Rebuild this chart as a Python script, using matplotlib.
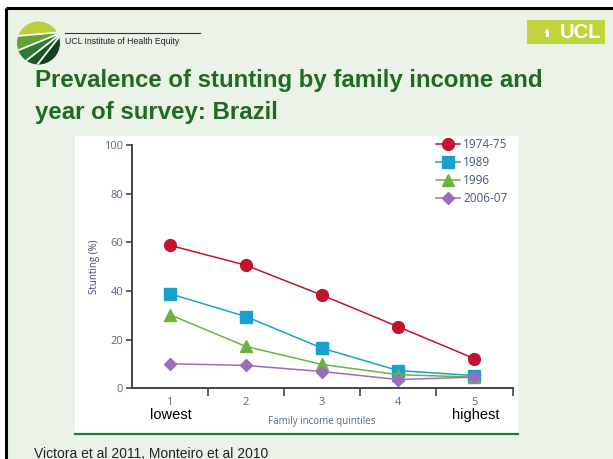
import matplotlib
matplotlib.use("Agg")
import matplotlib.pyplot as plt
from matplotlib.patches import Rectangle, Circle, Polygon
import numpy as np

# stunting (%) by family income quintile, one series per survey
quintiles = [1, 2, 3, 4, 5]
tick_labels = ["1", "2", "3", "4", "5"]
survey_years = ["1974-75", "1989", "1996", "2006-07"]
stunting_1974 = [58.8, 50.6, 38.3, 25.3, 12.2]
stunting_1989 = [38.9, 29.5, 16.5, 7.3, 5.2]
stunting_1996 = [30.3, 17.2, 9.8, 5.6, 4.6]
stunting_2006 = [10.1, 9.4, 6.9, 3.6, 4.6]
y_ticks = [0, 20, 40, 60, 80, 100]

series = [stunting_1974, stunting_1989, stunting_1996, stunting_2006]
colors = ["#c4122f", "#1aa0cf", "#6cb33f", "#9a6cc0"]
markers = ["o", "s", "^", "D"]
msizes = [8.5, 8, 8, 6.5]

W, H = 613, 459
BG = "#ebf3e8"
DARKGREEN = "#1f6b22"
TICKCOL = "#556a8c"

fig = plt.figure(figsize=(W / 100, H / 100), dpi=100, facecolor="white")

# slide background drawn in pixel coordinates
bg = fig.add_axes([0, 0, 1, 1])
bg.set_xlim(0, W)
bg.set_ylim(H, 0)
bg.axis("off")
bg.add_patch(Rectangle((6, 8), W, H, facecolor=BG, edgecolor="none"))
bg.plot([6, W], [8, 8], color="black", lw=2.2, solid_capstyle="butt")
bg.plot([6, 6], [8, H], color="black", lw=2.2, solid_capstyle="butt")

# institute logo: disc split into bands fanning out from its upper right
cx, cy, r = 38.5, 43, 21.5
disc = Circle((cx, cy), r, transform=bg.transData)
ox, oy = 63, 32
rim = [(17, 36), (19, 50), (27, 60), (37, 65)]
far = [(ox + 8 * (px - ox), oy + 8 * (py - oy)) for px, py in rim]
corners = [(ox + 200, oy - 200), (ox - 200, oy - 200)] + far + [(ox + 200, oy + 300)]
bands = [
    ("#bccf3b", [corners[0], corners[1], corners[2]]),
    ("#64a236", [corners[2], corners[3]]),
    ("#2d7b34", [corners[3], corners[4]]),
    ("#1f5628", [corners[4], corners[5]]),
    ("#173f1f", [corners[5], corners[6], corners[0]]),
]
for col, pts in bands:
    poly = Polygon([(ox, oy)] + pts, closed=True, facecolor=col, edgecolor="none")
    bg.add_patch(poly)
    poly.set_clip_path(disc)
for fx, fy in far:
    ln, = bg.plot([ox, fx], [oy, fy], color="white", lw=1.3)
    ln.set_clip_path(disc)
bg.plot([65, 200], [33, 33], color="#333333", lw=0.8)
bg.text(65, 44.5, "UCL Institute of Health Equity", fontsize=6.3,
        family="Liberation Sans", color="#222222", va="baseline")

# UCL badge
bg.add_patch(Rectangle((527, 20), 78, 24, facecolor="#c2d43c", edgecolor="none"))
bg.add_patch(Polygon([(544.5, 33), (549.5, 33), (547, 28.5)], closed=True,
                     facecolor="white", edgecolor="none"))
bg.add_patch(Rectangle((545.5, 33), 3, 4, facecolor="white", edgecolor="none"))
bg.text(580, 32.5, "UCL", fontsize=14.5, fontweight="bold", family="Liberation Sans",
        color="white", ha="center", va="center")

# slide title
bg.text(35, 87, "Prevalence of stunting by family income and", fontsize=17.3,
        fontweight="bold", family="Liberation Sans", color=DARKGREEN, va="baseline")
bg.text(35, 119, "year of survey: Brazil", fontsize=17.3,
        fontweight="bold", family="Liberation Sans", color=DARKGREEN, va="baseline")

# white chart panel with green rule underneath
bg.add_patch(Rectangle((75, 136), 443, 297, facecolor="white", edgecolor="none"))
bg.plot([75, 518], [433.5, 433.5], color="#1f7a3a", lw=1.6)

bg.text(171, 419, "lowest", fontsize=10.5, family="Liberation Sans", color="black",
        ha="center", va="baseline")
bg.text(476, 419, "highest", fontsize=10.5, family="Liberation Sans", color="black",
        ha="center", va="baseline")
bg.text(34, 457.5, "Victora et al 2011, Monteiro et al 2010", fontsize=10,
        family="Liberation Sans", color="#222222", va="baseline")

# chart axes
left, right, top, bottom = 131.5, 512.5, 145, 388.3
ax = fig.add_axes([left / W, 1 - bottom / H, (right - left) / W, (bottom - top) / H])
ax.patch.set_alpha(0)
for (vals, col, mk, ms, lab) in zip(series, colors, markers, msizes, survey_years):
    ax.plot(quintiles, vals, color=col, lw=1.1, marker=mk, markersize=ms,
            markeredgecolor=col, markerfacecolor=col, label=lab, clip_on=False)

ax.set_xlim(0.5, 5.5)
ax.set_ylim(0, 100)
for s in ["top", "right"]:
    ax.spines[s].set_visible(False)
for s in ["left", "bottom"]:
    ax.spines[s].set_color("#444444")
    ax.spines[s].set_linewidth(1.4)

ax.set_yticks(y_ticks)
ax.set_yticklabels([str(v) for v in y_ticks])
ax.tick_params(axis="y", length=4, width=1.2, color="#444444", labelsize=8,
               labelcolor=TICKCOL, pad=2)
ax.set_xticks(quintiles)
ax.set_xticklabels(tick_labels)
ax.tick_params(axis="x", which="major", length=0, labelsize=8, labelcolor=TICKCOL, pad=6)
ax.set_xticks([1.5, 2.5, 3.5, 4.5, 5.5], minor=True)
ax.tick_params(axis="x", which="minor", length=6, width=1.2, color="#444444")
for t in ax.get_xticklabels() + ax.get_yticklabels():
    t.set_family("Open Sans")

ax.set_ylabel("Stunting (%)", fontsize=7, family="Open Sans", color="#3c4a66", labelpad=3)
ax.set_xlabel("Family income quintiles", fontsize=7, family="Open Sans", color=TICKCOL,
              labelpad=6)

leg = ax.legend(loc="upper left", bbox_to_anchor=(436 / W, 1 - 138 / H),
                bbox_transform=fig.transFigure, frameon=False, borderaxespad=0,
                borderpad=0, handlelength=2.0, handletextpad=0.3, labelspacing=0.42,
                prop={"family": "Open Sans", "size": 8.5})
for t in leg.get_texts():
    t.set_color("#4a5a78")

fig.savefig("out.png", dpi=100, facecolor=fig.get_facecolor())
